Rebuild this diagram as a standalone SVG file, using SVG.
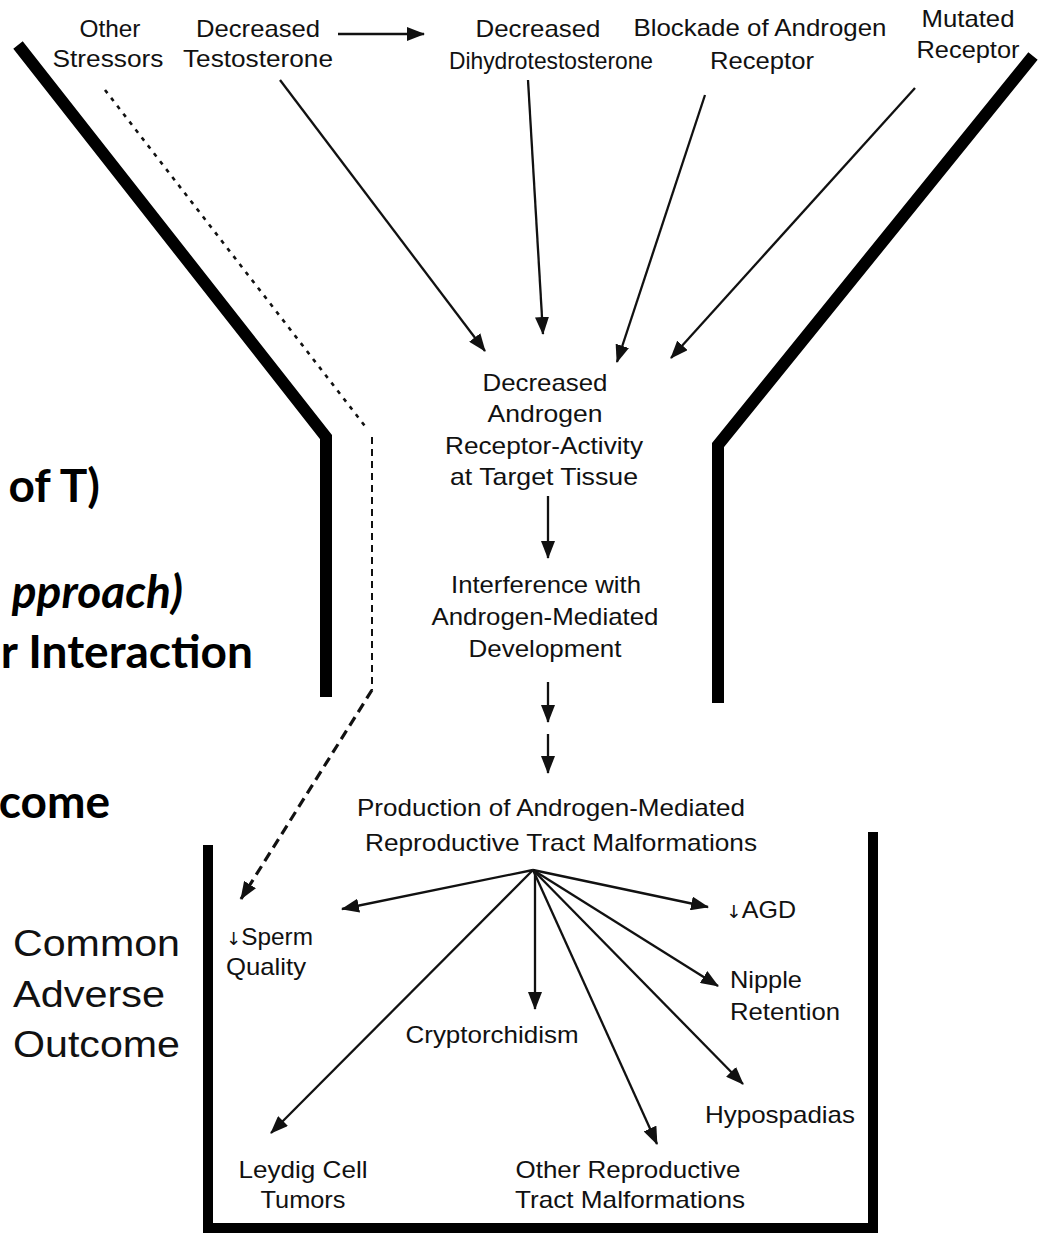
<svg xmlns="http://www.w3.org/2000/svg" width="1041" height="1233" viewBox="0 0 1041 1233">
  <defs>
    <marker id="head" viewBox="0 0 18 14" refX="17" refY="7" markerWidth="18" markerHeight="14" markerUnits="userSpaceOnUse" orient="auto">
      <path d="M0,0 L18,7 L0,14 Z" fill="#111"/>
    </marker>
    <style>
      .lbl { font-family: "Liberation Sans", Arial, sans-serif; font-size: 24px; fill: #111; }
      .mid { text-anchor: middle; }
      .sym { font-family: "DejaVu Sans", sans-serif; font-size: 18px; }
      .big { font-family: "Liberation Sans", Arial, sans-serif; font-size: 36px; fill: #111; }
      .bold { font-family: Lato, "Open Sans", sans-serif; font-weight: 700; font-size: 46px; fill: #000; text-anchor: end; }
      .wall { fill: none; stroke: #000; stroke-width: 12; stroke-linejoin: miter; }
      .box { fill: none; stroke: #000; stroke-width: 10; }
      .arr { fill: none; stroke: #111; stroke-width: 2.3; marker-end: url(#head); }
      .dash1 { fill: none; stroke: #111; stroke-width: 2.6; stroke-dasharray: 4 6; }
      .dash2 { fill: none; stroke: #111; stroke-width: 2; stroke-dasharray: 7 5; }
      .dash3 { fill: none; stroke: #111; stroke-width: 3.2; stroke-dasharray: 10 6; }
    </style>
  </defs>

  <!-- funnel walls and outcome container -->
  <g id="funnel">
    <polyline class="wall" points="18,45 326,437 326,697"/>
    <polyline class="wall" points="1033,56 718,445 718,703"/>
    <path class="box" d="M208,845 V1228 H873 V832"/>
  </g>

  <!-- partially visible slide headings -->
  <g id="headings">
    <text class="bold" x="100" y="502">of T)</text>
    <text class="bold" x="183" y="608" font-style="italic">pproach)</text>
    <text class="bold" x="253" y="668">r Interaction</text>
    <text class="bold" x="110" y="818">come</text>
  </g>

  <g id="common-adverse-outcome">
    <text class="big" x="13" y="956" textLength="167" lengthAdjust="spacingAndGlyphs">Common</text>
    <text class="big" x="13" y="1007" textLength="152" lengthAdjust="spacingAndGlyphs">Adverse</text>
    <text class="big" x="13" y="1057" textLength="167" lengthAdjust="spacingAndGlyphs">Outcome</text>
  </g>

  <g id="connectors">
    <line class="arr" x1="338" y1="34" x2="424" y2="34"/>
    <line class="arr" x1="280" y1="80" x2="485" y2="351"/>
    <line class="arr" x1="528" y1="80" x2="543" y2="334"/>
    <line class="arr" x1="705" y1="95" x2="617" y2="362"/>
    <line class="arr" x1="915" y1="88" x2="671" y2="358"/>
    <line class="arr" x1="548" y1="496" x2="548" y2="558"/>
    <line class="arr" x1="548" y1="682" x2="548" y2="722"/>
    <line class="arr" x1="548" y1="734" x2="548" y2="773"/>
    <line class="arr" x1="533" y1="870" x2="342" y2="909"/>
    <line class="arr" x1="533" y1="870" x2="708" y2="907"/>
    <line class="arr" x1="533" y1="870" x2="718" y2="986"/>
    <line class="arr" x1="533" y1="870" x2="743" y2="1084"/>
    <line class="arr" x1="533" y1="870" x2="657" y2="1144"/>
    <line class="arr" x1="535" y1="870" x2="535" y2="1009"/>
    <line class="arr" x1="533" y1="870" x2="271" y2="1133"/>
    <!-- other stressors bypass the funnel -->
    <line class="dash1" x1="105" y1="90" x2="368" y2="430"/>
    <line class="dash2" x1="372" y1="437" x2="372" y2="690"/>
    <line class="dash3" x1="372" y1="690" x2="241" y2="899" marker-end="url(#head)"/>
  </g>

  <g id="n-other-stressors">
    <text class="lbl mid" x="110" y="37" textLength="61" lengthAdjust="spacingAndGlyphs">Other</text>
    <text class="lbl mid" x="108" y="67" textLength="111" lengthAdjust="spacingAndGlyphs">Stressors</text>
  </g>
  <g id="n-testosterone">
    <text class="lbl mid" x="258" y="37" textLength="124" lengthAdjust="spacingAndGlyphs">Decreased</text>
    <text class="lbl mid" x="258" y="67" textLength="150" lengthAdjust="spacingAndGlyphs">Testosterone</text>
  </g>
  <g id="n-dht">
    <text class="lbl mid" x="538" y="37" textLength="125" lengthAdjust="spacingAndGlyphs">Decreased</text>
    <text class="lbl mid" x="551" y="69" textLength="204" lengthAdjust="spacingAndGlyphs">Dihydrotestosterone</text>
  </g>
  <g id="n-blockade">
    <text class="lbl mid" x="760" y="36" textLength="253" lengthAdjust="spacingAndGlyphs">Blockade of Androgen</text>
    <text class="lbl mid" x="762" y="69" textLength="104" lengthAdjust="spacingAndGlyphs">Receptor</text>
  </g>
  <g id="n-mutated">
    <text class="lbl mid" x="968" y="27" textLength="93" lengthAdjust="spacingAndGlyphs">Mutated</text>
    <text class="lbl mid" x="968" y="58" textLength="103" lengthAdjust="spacingAndGlyphs">Receptor</text>
  </g>
  <g id="n-ar-activity">
    <text class="lbl mid" x="545" y="391" textLength="125" lengthAdjust="spacingAndGlyphs">Decreased</text>
    <text class="lbl mid" x="545" y="422" textLength="115" lengthAdjust="spacingAndGlyphs">Androgen</text>
    <text class="lbl mid" x="544" y="454" textLength="198" lengthAdjust="spacingAndGlyphs">Receptor-Activity</text>
    <text class="lbl mid" x="544" y="485" textLength="188" lengthAdjust="spacingAndGlyphs">at Target Tissue</text>
  </g>
  <g id="n-interference">
    <text class="lbl mid" x="546" y="593" textLength="190" lengthAdjust="spacingAndGlyphs">Interference with</text>
    <text class="lbl mid" x="545" y="625" textLength="227" lengthAdjust="spacingAndGlyphs">Androgen-Mediated</text>
    <text class="lbl mid" x="545" y="657" textLength="153" lengthAdjust="spacingAndGlyphs">Development</text>
  </g>
  <g id="n-malformations">
    <text class="lbl mid" x="551" y="816" textLength="388" lengthAdjust="spacingAndGlyphs">Production of Androgen-Mediated</text>
    <text class="lbl mid" x="561" y="851" textLength="392" lengthAdjust="spacingAndGlyphs">Reproductive Tract Malformations</text>
  </g>
  <g id="n-sperm">
    <text class="lbl" x="226" y="945" textLength="87" lengthAdjust="spacingAndGlyphs"><tspan class="sym">↓</tspan>Sperm</text>
    <text class="lbl" x="226" y="975" textLength="80" lengthAdjust="spacingAndGlyphs">Quality</text>
  </g>
  <g id="n-agd">
    <text class="lbl" x="726" y="918" textLength="70" lengthAdjust="spacingAndGlyphs"><tspan class="sym">↓</tspan>AGD</text>
  </g>
  <g id="n-nipple">
    <text class="lbl" x="730" y="988" textLength="72" lengthAdjust="spacingAndGlyphs">Nipple</text>
    <text class="lbl" x="730" y="1020" textLength="110" lengthAdjust="spacingAndGlyphs">Retention</text>
  </g>
  <g id="n-crypto">
    <text class="lbl mid" x="492" y="1043" textLength="173" lengthAdjust="spacingAndGlyphs">Cryptorchidism</text>
  </g>
  <g id="n-hypospadias">
    <text class="lbl mid" x="780" y="1123" textLength="150" lengthAdjust="spacingAndGlyphs">Hypospadias</text>
  </g>
  <g id="n-leydig">
    <text class="lbl mid" x="303" y="1178" textLength="129" lengthAdjust="spacingAndGlyphs">Leydig Cell</text>
    <text class="lbl mid" x="303" y="1208" textLength="85" lengthAdjust="spacingAndGlyphs">Tumors</text>
  </g>
  <g id="n-other-repro">
    <text class="lbl mid" x="628" y="1178" textLength="225" lengthAdjust="spacingAndGlyphs">Other Reproductive</text>
    <text class="lbl mid" x="630" y="1208" textLength="230" lengthAdjust="spacingAndGlyphs">Tract Malformations</text>
  </g>
</svg>
